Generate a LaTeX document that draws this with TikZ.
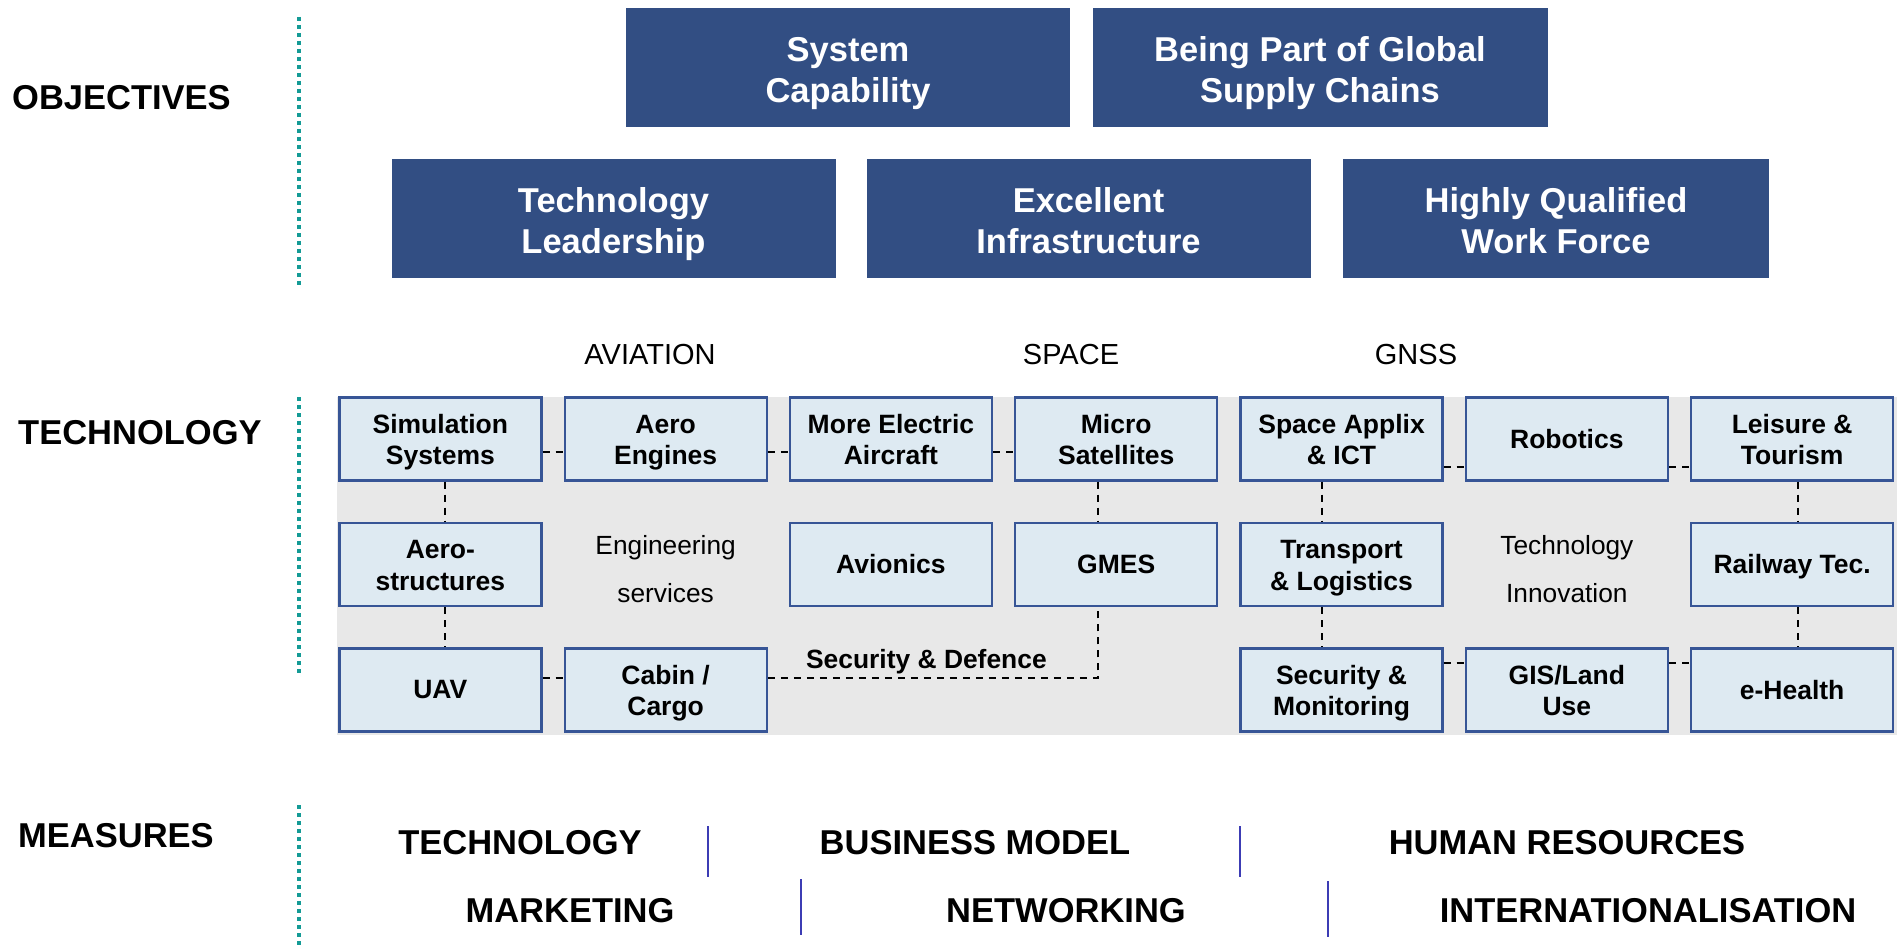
\documentclass[tikz,border=0pt]{standalone}
\usepackage{fontspec}
\setmainfont{Liberation Sans}

\definecolor{goalblue}{RGB}{50,78,131}
\definecolor{fieldfill}{RGB}{222,234,242}
\definecolor{fieldline}{RGB}{55,85,150}
\definecolor{backgray}{RGB}{232,232,232}
\definecolor{railteal}{RGB}{20,155,150}
\definecolor{dividerblue}{RGB}{60,60,180}

\newcommand{\amper}{\char38\relax}

\begin{document}
\begin{tikzpicture}[
      x=1pt, y=-1pt,
      every matrix/.style={ampersand replacement=\&,column sep=21pt,row sep=40.2pt,inner sep=0pt},
      goal/.style={fill=goalblue,text=white,align=center,minimum width=444pt,minimum height=119pt,
        text height=71pt,text depth=0pt,font=\bfseries\fontsize{34.5}{41}\selectfont},
      field/.style={draw=fieldline,line width=2.3pt,fill=fieldfill,align=center,inner sep=4pt,
        minimum width=202pt,minimum height=83pt,text depth=0pt,font=\bfseries\fontsize{26.5}{31.5}\selectfont},
      wrapfield/.style={field,text height=52pt},
      note/.style={align=center,inner sep=4pt,font=\fontsize{26.3}{48}\selectfont},
      level/.style={anchor=west,inner sep=0pt,font=\bfseries\fontsize{34.5}{41}\selectfont},
      sector/.style={font=\fontsize{29}{34}\selectfont},
      measure/.style={font=\bfseries\fontsize{34.5}{41}\selectfont},
      link/.style={line width=2pt,dash pattern=on 7pt off 6pt},
      rail/.style={draw=railteal,line width=4pt,dash pattern=on 4pt off 4pt},
      divider/.style={draw=dividerblue,line width=2pt},
      ]

    \useasboundingbox (0,0) rectangle (1897,949);

    % Left column
    \node[level] (objectives) at (12,98) {OBJECTIVES};
    \node[level] (technology) at (18,433) {TECHNOLOGY};
    \node[level] (measures) at (18,836) {MEASURES};
    \draw[rail] (299,17) -- (299,285);
    \draw[rail] (299,397) -- (299,673);
    \draw[rail] (299,805) -- (299,947);

    % Objectives
    \node[goal] (syscap) at (848,67.5) {System\\Capability};
    \node[goal,minimum width=455pt] (supply) at (1320,67.5) {Being Part of Global\\Supply Chains};
    \node[goal] (techlead) at (613.5,218.5) {Technology\\Leadership};
    \node[goal] (infra) at (1088.5,218.5) {Excellent\\Infrastructure};
    \node[goal,minimum width=426pt] (workforce) at (1556,218.5) {Highly Qualified\\Work Force};

    \node[sector] (aviation) at (650,355) {AVIATION};
    \node[sector] (space) at (1071,355) {SPACE};
    \node[sector] (gnss) at (1416,355) {GNSS};

    \fill[backgray] (337,397) rectangle (1897,735);

    % Position the nodes
    \matrix (grid) [anchor=north west] at (338,396) {
      \node[wrapfield] (sim) {Simulation\\Systems}; \& \node[wrapfield] (engines) {Aero\\Engines}; \&
      \node[wrapfield] (electric) {More Electric\\Aircraft}; \& \node[wrapfield] (micro) {Micro\\Satellites}; \&
      \node[wrapfield] (applix) {Space Applix\\\amper{} ICT}; \& \node[field] (robotics) {Robotics}; \&
      \node[wrapfield] (leisure) {Leisure \amper\\Tourism}; \\
      \node[wrapfield] (struct) {Aero-\\structures}; \& \&
      \node[field] (avionics) {Avionics}; \& \node[field] (gmes) {GMES}; \&
      \node[wrapfield] (transport) {Transport\\\amper{} Logistics}; \& \&
      \node[field] (railway) {Railway Tec.}; \\
      \node[field] (uav) {UAV}; \& \node[wrapfield] (cabin) {Cabin /\\Cargo}; \& \& \&
      \node[wrapfield] (monitoring) {Security \amper\\Monitoring}; \& \node[wrapfield] (gis) {GIS/Land\\Use}; \&
      \node[field] (health) {e-Health}; \\
    };
    \node[note,yshift=-5pt] (engservices) at (cabin |- struct) {Engineering\\services};
    \node[note,yshift=-5pt] (innovation) at (gis |- transport) {Technology\\Innovation};

    % Draw the links
    \path[link] ([yshift=-13pt]sim.east) edge ([yshift=-13pt]engines.west);
    \path[link] ([yshift=-13pt]engines.east) edge ([yshift=-13pt]electric.west);
    \path[link] ([yshift=-13pt]electric.east) edge ([yshift=-13pt]micro.west);
    \path[link] ([yshift=-28pt]applix.east) edge ([yshift=-28pt]robotics.west);
    \path[link] ([yshift=-28pt]robotics.east) edge ([yshift=-28pt]leisure.west);
    \path[link] ([yshift=12pt]uav.east) edge ([yshift=12pt]cabin.west);
    \path[link] ([yshift=27pt]monitoring.east) edge ([yshift=27pt]gis.west);
    \path[link] ([yshift=27pt]gis.east) edge ([yshift=27pt]health.west);

    \path[link] ([xshift=5pt]sim.south) edge ([xshift=5pt]struct.north);
    \path[link] ([xshift=5pt]struct.south) edge ([xshift=5pt]uav.north);
    \path[link] ([xshift=-18pt]micro.south) edge ([xshift=-18pt]gmes.north);
    \path[link] ([xshift=-20pt]applix.south) edge ([xshift=-20pt]transport.north);
    \path[link] ([xshift=-20pt]transport.south) edge ([xshift=-20pt]monitoring.north);
    \path[link] ([xshift=6pt]leisure.south) edge ([xshift=6pt]railway.north);
    \path[link] ([xshift=6pt]railway.south) edge ([xshift=6pt]health.north);

    \draw[link] ([yshift=12pt]cabin.east) -| node[pos=0.24,above,solid,font=\bfseries\fontsize{26.4}{31}\selectfont] (defence) {Security \& Defence} ([xshift=-18pt]gmes.south);

    % Measures
    \node[measure] (mtech) at (520,843) {TECHNOLOGY};
    \node[measure] (mbusiness) at (975,843) {BUSINESS MODEL};
    \node[measure] (mhuman) at (1567,843) {HUMAN RESOURCES};
    \node[measure] (mmarketing) at (570,911) {MARKETING};
    \node[measure] (mnetworking) at (1066,911) {NETWORKING};
    \node[measure] (mintl) at (1648,911) {INTERNATIONALISATION};
    \draw[divider] (708,826) -- (708,877);
    \draw[divider] (1240,826) -- (1240,877);
    \draw[divider] (801,879) -- (801,935);
    \draw[divider] (1328,881) -- (1328,937);

  \end{tikzpicture}
\end{document}
